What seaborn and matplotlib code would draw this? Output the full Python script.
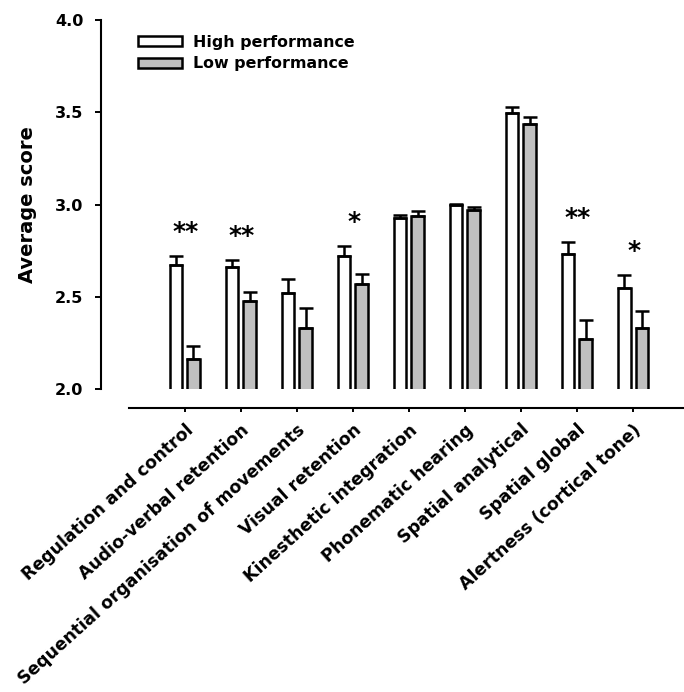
import numpy as np
import pandas as pd
import matplotlib
matplotlib.use("Agg")
import matplotlib.pyplot as plt
import matplotlib.patches as mpatches
import seaborn as sns

categories = ["Regulation and control", "Audio-verbal retention",
              "Sequential organisation of movements", "Visual retention",
              "Kinesthetic integration", "Phonematic hearing",
              "Spatial analytical", "Spatial global", "Alertness (cortical tone)"]
groups = ["High performance", "Low performance"]
high_mean = [2.675, 2.665, 2.52, 2.722, 2.927, 3.0, 3.494, 2.735, 2.55]
high_err = [0.045, 0.036, 0.076, 0.056, 0.016, 0.004, 0.036, 0.065, 0.068]
low_mean = [2.164, 2.48, 2.333, 2.57, 2.94, 2.97, 3.435, 2.275, 2.33]
low_err = [0.07, 0.045, 0.105, 0.054, 0.025, 0.02, 0.041, 0.103, 0.094]
significance = ["**", "**", "", "*", "", "", "", "**", "*"]
yticks = [2.0, 2.5, 3.0, 3.5, 4.0]

sns.set_theme(style="ticks")
plt.rcParams["font.family"] = ["DejaVu Sans"]
plt.rcParams["font.weight"] = "bold"
plt.rcParams["text.color"] = "black"
plt.rcParams["axes.labelcolor"] = "black"
plt.rcParams["xtick.color"] = "black"
plt.rcParams["ytick.color"] = "black"

df = pd.DataFrame({
    "category": categories * 2,
    "group": [groups[0]] * len(categories) + [groups[1]] * len(categories),
    "score": high_mean + low_mean,
})

fig = plt.figure(figsize=(6.84, 6.92), dpi=100)
ax = fig.add_axes([0.1472, 0.4374, 0.8528, 0.5337])

palette = {groups[0]: "white", groups[1]: "#c0c0c0"}
sns.barplot(data=df, x="category", y="score", hue="group", order=categories,
            hue_order=groups, palette=palette, width=0.624, gap=0.285,
            edgecolor="black", linewidth=1.8, errorbar=None, legend=False, ax=ax)

for cont, errs in zip(ax.containers, [high_err, low_err]):
    xs = [b.get_x() + b.get_width() / 2 for b in cont]
    ys = [b.get_height() for b in cont]
    ax.errorbar(xs, ys, yerr=[np.zeros(len(errs)), errs], fmt="none",
                ecolor="black", elinewidth=1.8, capsize=5.0, capthick=1.8, zorder=3)

for i, s in enumerate(significance):
    if s:
        top = max(high_mean[i] + high_err[i], low_mean[i] + low_err[i])
        ax.text(i + 0.02, top + 0.13, s, ha="center", va="center",
                fontsize=18, fontweight="bold", color="black")

for side in ["top", "right"]:
    ax.spines[side].set_visible(False)
for side in ["left", "bottom"]:
    ax.spines[side].set_linewidth(1.5)
    ax.spines[side].set_color("black")
ax.spines["bottom"].set_position(("outward", 13.7))
ax.tick_params(axis="y", length=4.3, width=1.4, pad=8)
ax.tick_params(axis="x", length=3, width=1.4, pad=6, labelrotation=42)

ax.set_ylim(2.0, 4.0)
ax.set_yticks(yticks)
ax.set_yticklabels([f"{t:.1f}" for t in yticks], fontsize=11.5, fontweight="bold")
ax.set_xlim(-1.5, 8.91)
ax.spines["bottom"].set_bounds(-1.0, 8.91)
ax.set_xticks(range(len(categories)))
ax.set_xticklabels(categories, fontsize=12.4, fontweight="bold")
ax.set_xlabel("")
ax.set_ylabel("Average score", fontsize=14, fontweight="bold", labelpad=13)

handles = [mpatches.Patch(facecolor=palette[g], edgecolor="black", linewidth=1.8, label=g)
           for g in groups]
ax.legend(handles=handles, loc="upper left", bbox_to_anchor=(0.053, 0.977),
          frameon=False, fontsize=11.4, handlelength=2.8, handleheight=0.6,
          handletextpad=0.7, labelspacing=0.4, borderaxespad=0)

fig.canvas.draw()
for lab in ax.get_xticklabels():
    lab.set_rotation(42)
    lab.set_horizontalalignment("right")
    lab.set_verticalalignment("top")
    lab.set_rotation_mode("anchor")

fig.savefig("out.png", dpi=100)
